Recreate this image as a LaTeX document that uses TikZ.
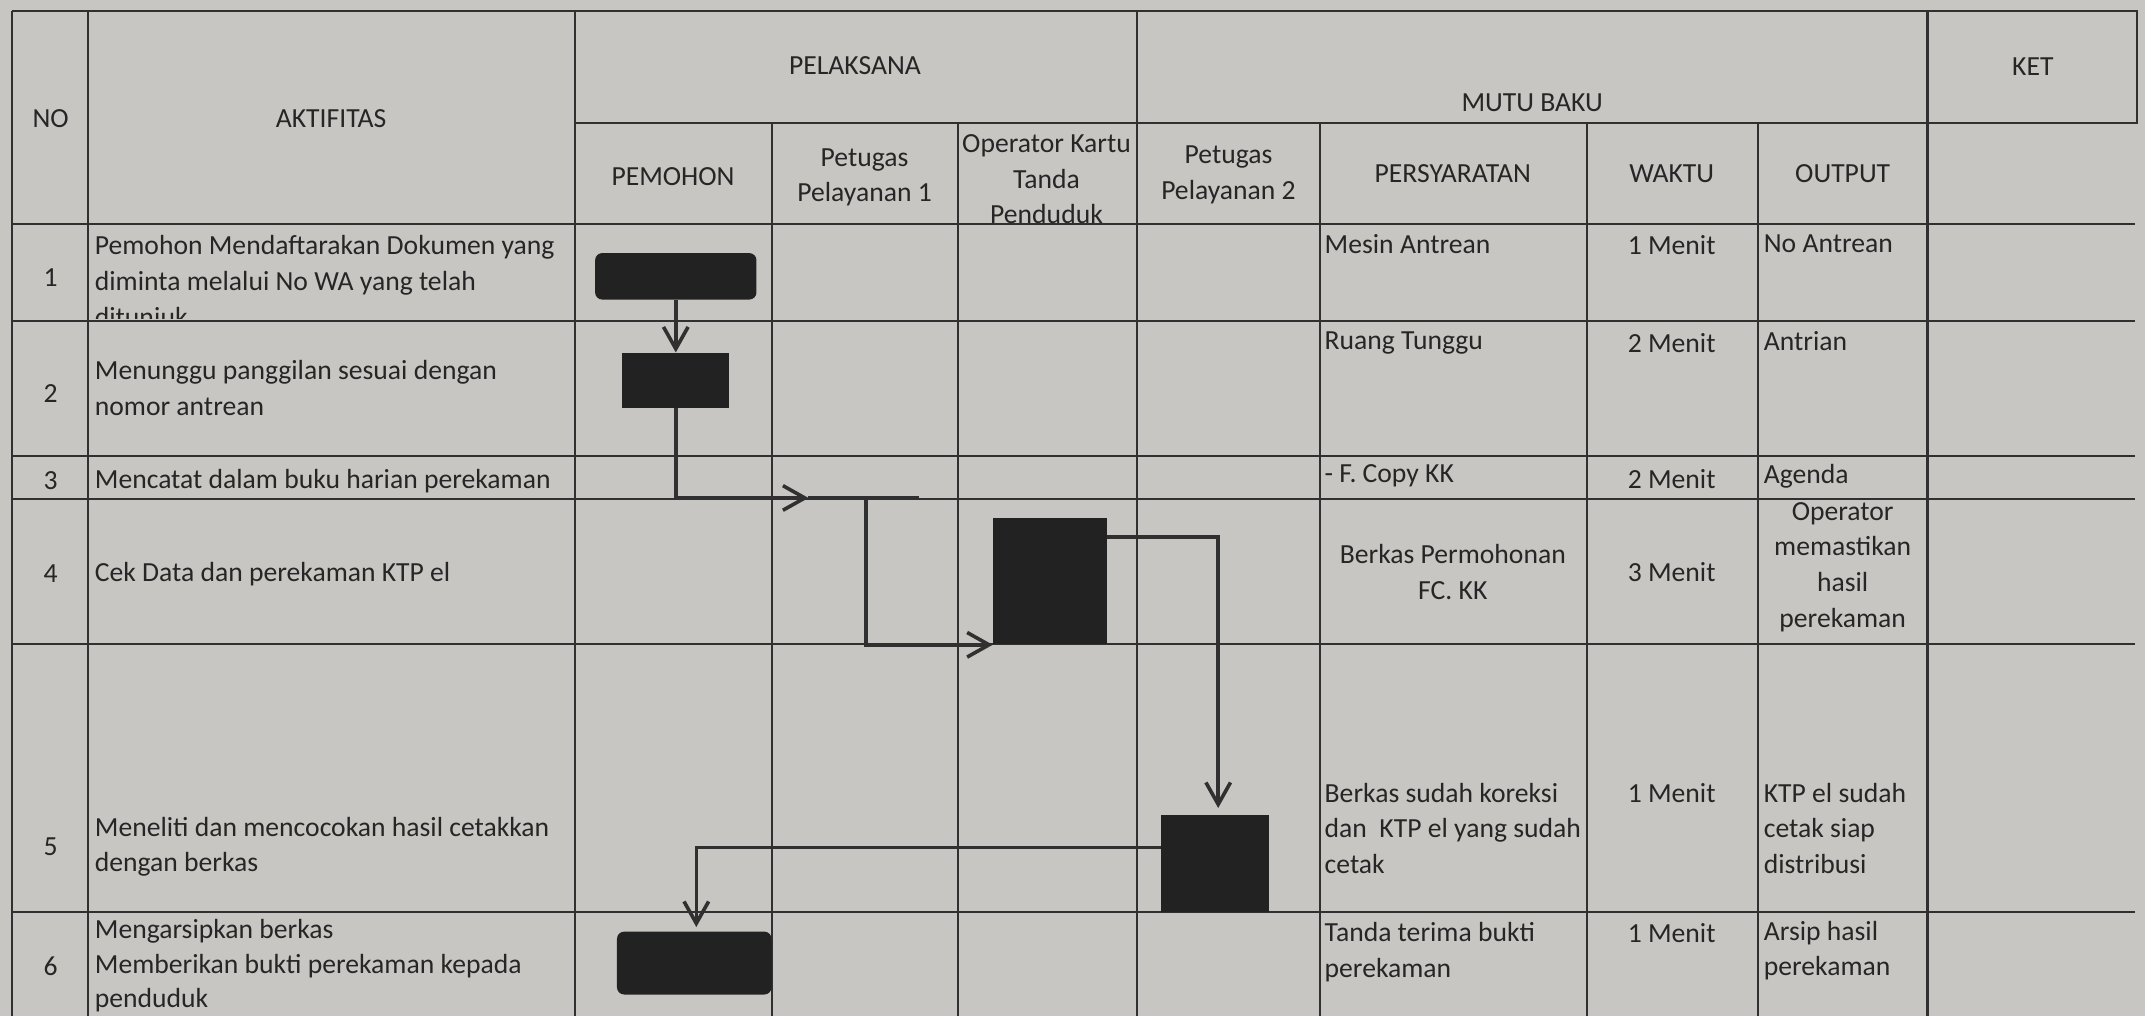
\documentclass[tikz,border=0pt]{standalone}
\usepackage{fontspec}
\setmainfont{Carlito}
\usetikzlibrary{arrows.meta,calc}
\definecolor{sheet-paper}{HTML}{C7C6C2}
\definecolor{sheet-ink}{HTML}{262626}
\definecolor{sheet-rule}{HTML}{303030}
\definecolor{sheet-block}{HTML}{232222}

\begin{document}
\begin{tikzpicture}[
    x=0.02cm, y=-0.02cm,
    font=\fontsize{11.5}{14.8}\selectfont,
    every node/.style={text=sheet-ink, inner sep=0pt},
    head/.style={align=center},
    cell/.style={anchor=north west, align=left},
    rule/.style={draw=sheet-rule, line width=0.85pt},
    block/.style={fill=sheet-block, draw=none},
    roundblock/.style={block, rounded corners=3pt},
    flow/.style={-{Straight Barb[length=3.2mm, width=3.6mm]}, draw=sheet-rule, line width=1.5pt},
    link/.style={draw=sheet-rule, line width=1.5pt},
]
\fill[sheet-paper] (0,0) rectangle (1568,743);
\path[use as bounding box] (0,0) rectangle (1568,743);

% header
\node (hno) at (37,87) {NO};
\node (hakt) at (242,87) {AKTIFITAS};
\node (hpel) at (625,48) {PELAKSANA};
\node (hmutu) at (1120,75) {MUTU BAKU};
\node (hket) at (1486,49) {KET};
\node (hpemohon) at (492,129) {PEMOHON};
\node[head] (hpetugasA) at (632,129.5) {Petugas\\Pelayanan 1};
\node[head] (hoperator) at (765,131) {Operator Kartu\\Tanda\\Penduduk};
\node[head] (hpetugasB) at (898,128) {Petugas\\Pelayanan 2};
\node (hsyarat) at (1062,127) {PERSYARATAN};
\node (hwaktu) at (1222,127) {WAKTU};
\node (houtput) at (1347,127) {OUTPUT};

% nomor
\node (no1) at (37,203) {1};
\node (no2) at (37,288) {2};
\node (no3) at (37,351) {3};
\node (no4) at (37,419) {4};
\node (no5) at (37,619) {5};
\node (no6) at (37,706) {6};

% aktifitas
\begin{scope}
\clip (64,164) rectangle (420,233);
\node[cell] (akt1) at (69,172) {Pemohon Mendaftarakan Dokumen yang\\diminta melalui No WA yang telah\\ditunjuk};
\end{scope}
\node[cell] (akt2) at (69,263) {Menunggu panggilan sesuai dengan\\nomor antrean};
\node[cell] (akt3) at (69,343) {Mencatat dalam buku harian perekaman};
\node[cell] (akt4) at (69,411) {Cek Data dan perekaman KTP el};
\node[cell] (akt5) at (69,597) {Meneliti dan mencocokan hasil cetakkan\\dengan berkas};
\node[cell, font=\fontsize{11.5}{14.2}\selectfont] (akt6) at (69,672) {Mengarsipkan berkas\\Memberikan bukti perekaman kepada\\penduduk};

% persyaratan
\node[cell] (syarat1) at (968,171) {Mesin Antrean};
\node[cell] (syarat2) at (968,242) {Ruang Tunggu};
\node[cell] (syarat3) at (968,339) {- F. Copy KK};
\node[head] (syarat4) at (1062,418) {Berkas Permohonan\\FC. KK};
\node[cell] (syarat5) at (968,572) {Berkas sudah koreksi\\dan\ \ KTP el yang sudah\\cetak};
\node[cell] (syarat6) at (968,674) {Tanda terima bukti\\perekaman};

% waktu
\node (waktu1) at (1222,179) {1 Menit};
\node (waktu2) at (1222,251) {2 Menit};
\node (waktu3) at (1222,350) {2 Menit};
\node (waktu4) at (1222,418) {3 Menit};
\node (waktu5) at (1222,580) {1 Menit};
\node (waktu6) at (1222,682) {1 Menit};

% output
\node[cell] (out1) at (1289,171) {No Antrean};
\node[cell] (out2) at (1289,242) {Antrian};
\node[cell] (out3) at (1289,339) {Agenda};
\node[head] (out4) at (1347,414.5) {Operator\\memastikan\\hasil\\perekaman};
\node[cell] (out5) at (1289,572) {KTP el sudah\\cetak siap\\distribusi};
\node[cell] (out6) at (1289,673) {Arsip hasil\\perekaman};

% garis tabel
\draw[rule] (9,8) -- (1562,8) -- (1562,90) -- (420,90);
\draw[rule] (9,164) -- (1561,164);
\draw[rule] (9,235) -- (1561,235);
\draw[rule] (9,333) -- (1561,333);
\draw[rule] (9,365) -- (1561,365);
\draw[rule] (9,471) -- (1561,471);
\draw[rule] (9,667) -- (1561,667);
\draw[rule] (9,8) -- (9,743);
\draw[rule] (64,8) -- (64,743);
\draw[rule] (420,8) -- (420,743);
\draw[rule] (564,90) -- (564,743);
\draw[rule] (700,90) -- (700,743);
\draw[rule] (831,8) -- (831,743);
\draw[rule] (965,90) -- (965,743);
\draw[rule] (1160,90) -- (1160,743);
\draw[rule] (1285,90) -- (1285,743);
\draw[rule] (1409,8) -- (1409,743);

% simbol alur
\node[roundblock, minimum width=2.36cm, minimum height=0.68cm] (daftar) at (494,202) {};
\node[block, minimum width=1.56cm, minimum height=0.80cm] (tunggu) at (494,278) {};
\node[block, minimum width=1.66cm, minimum height=1.84cm] (rekam) at (767.5,425) {};
\node[block, minimum width=1.58cm, minimum height=1.42cm] (teliti) at (888.5,631.5) {};
\node[roundblock, minimum width=2.26cm, minimum height=0.92cm] (arsip) at (507.5,704) {};

\coordinate (catat) at (591,364);
\coordinate (catatend) at (672,364);
\coordinate (cabang) at (633,364);
\draw[flow] (daftar.south) -- (tunggu.north);
\draw[flow] (tunggu.south) |- (catat);
\draw[link] (catat) -- (catatend);
\draw[flow] (cabang) |- (rekam.south west);
\draw[flow] ($(rekam.north east)+(0,14)$) -| ($(teliti.north)+(2,-5)$);
\draw[flow] ($(teliti.west)+(0,-12)$) -| ($(arsip.north)+(1.5,-3)$);
\end{tikzpicture}
\end{document}
